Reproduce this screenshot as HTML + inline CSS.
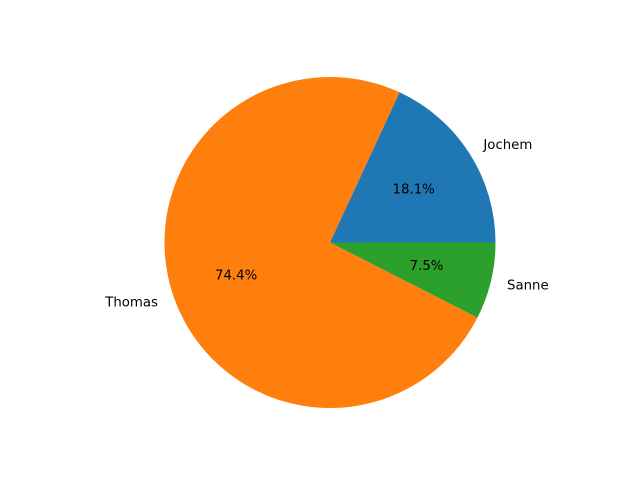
<!DOCTYPE html>
<html><head><meta charset="utf-8"><style>body{margin:0;background:#fff}svg{display:block}text{font-family:"DejaVu Sans","Liberation Sans",sans-serif;font-size:13.3px;fill:#000}</style></head>
<body>
<svg id="chart" width="640" height="480" viewBox="0 0 640 480" xmlns="http://www.w3.org/2000/svg">
<rect width="640" height="480" fill="#fff"/>
<g id="slices"></g>
</svg>
<script>
const labels = ["Jochem", "Thomas", "Sanne"];
const values = [18.1, 74.4, 7.5];
const colors = ["#1f77b4", "#ff7f0e", "#2ca02c"];
const cx = 330, cy = 242.5, r = 165.5;
const g = document.getElementById('slices');
const ns = "http://www.w3.org/2000/svg";
const total = values.reduce((a,b)=>a+b,0);
let start = 0;
values.forEach((v,i)=>{
  const sweep = v/total*2*Math.PI;
  const a0 = start, a1 = start+sweep;
  const x0 = cx + r*Math.cos(a0), y0 = cy - r*Math.sin(a0);
  const x1 = cx + r*Math.cos(a1), y1 = cy - r*Math.sin(a1);
  const large = sweep > Math.PI ? 1 : 0;
  const p = document.createElementNS(ns,'path');
  p.setAttribute('d',`M${cx},${cy} L${x0},${y0} A${r},${r} 0 ${large} 0 ${x1},${y1} Z`);
  p.setAttribute('fill',colors[i]);
  
  
  g.appendChild(p);
  const mid = (a0+a1)/2, c = Math.cos(mid), s = Math.sin(mid);
  const t = document.createElementNS(ns,'text');
  t.setAttribute('x', cx + 1.1*r*c);
  t.setAttribute('y', cy - 1.1*r*s + 1);
  t.setAttribute('text-anchor', c >= 0 ? 'start' : 'end');
  t.setAttribute('dominant-baseline','central');
  t.textContent = labels[i];
  
  
  g.appendChild(t);
  const pt = document.createElementNS(ns,'text');
  pt.setAttribute('x', cx + 0.6*r*c);
  pt.setAttribute('y', cy - 0.6*r*s + 1);
  pt.setAttribute('text-anchor','middle');
  pt.setAttribute('dominant-baseline','central');
  pt.textContent = (v/total*100).toFixed(1) + '%';
  
  
  g.appendChild(pt);
  start = a1;
});
</script>
</body></html>
